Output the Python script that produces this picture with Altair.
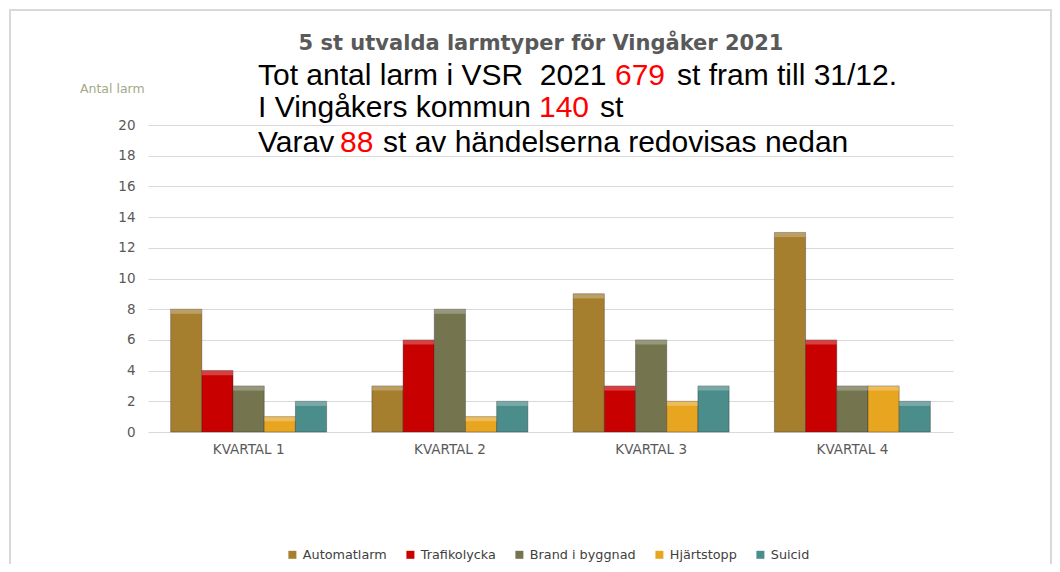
import altair as alt
import pandas as pd

quarters = ["KVARTAL 1", "KVARTAL 2", "KVARTAL 3", "KVARTAL 4"]
alarm_types = ["Automatlarm", "Trafikolycka", "Brand i byggnad", "Hjärtstopp", "Suicid"]
automatlarm = [8, 3, 9, 13]
trafikolycka = [4, 6, 3, 6]
brand_i_byggnad = [3, 8, 6, 3]
hjartstopp = [1, 1, 2, 3]
suicid = [2, 2, 3, 2]
type_colors = ["#A67F2E", "#C90000", "#74754F", "#E8A620", "#4B8D8A"]

series = [automatlarm, trafikolycka, brand_i_byggnad, hjartstopp, suicid]
rows = []
for qi, q in enumerate(quarters):
    for t, vals in zip(alarm_types, series):
        rows.append({"kvartal": q, "typ": t, "antal": vals[qi]})
df = pd.DataFrame(rows)

FONT = "Liberation Sans"
AXFONT = "DejaVu Sans"

x_enc = alt.X(
    "kvartal:N", sort=quarters,
    scale=alt.Scale(paddingInner=0.225, paddingOuter=0.1125),
    axis=alt.Axis(title=None, labelAngle=0, labelFontSize=13.5, labelColor="#595959",
                  labelFont=AXFONT, ticks=False, domain=False, labelPadding=10),
)
xoff_enc = alt.XOffset("typ:N", sort=alarm_types, scale=alt.Scale(paddingInner=0, paddingOuter=0))
y_enc = alt.Y(
    "antal:Q", scale=alt.Scale(domain=[0, 20]),
    axis=alt.Axis(title=None, values=list(range(0, 21, 2)), ticks=False, domain=False,
                  labelFontSize=13.5, labelColor="#595959", labelFont=AXFONT, labelPadding=13,
                  gridColor="#D9D9D9", gridWidth=1.2),
)
color_enc = alt.Color(
    "typ:N", sort=alarm_types,
    scale=alt.Scale(domain=alarm_types, range=type_colors),
    legend=alt.Legend(title=None, orient="none", legendX=138, legendY=423,
                      direction="horizontal", symbolType="square", symbolSize=64,
                      symbolStrokeWidth=0, labelFontSize=12.8, labelColor="#404040",
                      labelFont=AXFONT, columnPadding=17, labelOffset=4),
)

bars = alt.Chart(df).mark_bar(stroke="#222222", strokeOpacity=0.35, strokeWidth=1).encode(
    x=x_enc, xOffset=xoff_enc, y=y_enc, color=color_enc
)

highlight = alt.Chart(df).transform_calculate(top="datum.antal - 0.3").mark_bar(
    color="white", opacity=0.25
).encode(x=x_enc, xOffset=xoff_enc, y=y_enc, y2="top:Q")

border = alt.Chart(pd.DataFrame({"b": [0]})).mark_rect(
    fillOpacity=0, stroke="#D9D9D9", strokeWidth=2
).encode(x=alt.value(-138), x2=alt.value(903), y=alt.value(-115), y2=alt.value(470))


def label(txt, px, py, size, color, weight="normal", align="left", font=FONT):
    return alt.Chart(pd.DataFrame({"t": [txt]})).mark_text(
        align=align, baseline="alphabetic", fontSize=size, color=color,
        fontWeight=weight, font=font
    ).encode(x=alt.value(px), y=alt.value(py), text="t:N")


S = 30
texts = [
    label("5 st utvalda larmtyper för Vingåker 2021", 393, -75, 21, "#595959", "bold", "center", AXFONT),
    label("Tot antal larm i VSR\u00a0\u00a02021", 110, -40, S, "#000000"),
    label("679", 467, -40, S, "#FF0000"),
    label("st fram till 31/12.", 529, -40, S, "#000000"),
    label("I Vingåkers kommun", 110, -8, S, "#000000"),
    label("140", 391, -8, S, "#FF0000"),
    label("st", 452, -8, S, "#000000"),
    label("Varav", 110, 27, S, "#000000"),
    label("88", 192, 27, S, "#FF0000"),
    label("st av händelserna redovisas nedan", 235, 27, S, "#000000"),
    label("Antal larm", -68, -32, 12.5, "#A5A887", font=AXFONT),
]

chart = alt.layer(border, bars, highlight, *texts).properties(
    width=805, height=307,
    autosize=alt.AutoSizeParams(type="none"),
    padding={"left": 140, "top": 117, "right": 99, "bottom": 132},
).configure(font=FONT).configure_view(stroke="transparent")

chart.save("out.html", embed_options={"renderer": "svg", "actions": False})
